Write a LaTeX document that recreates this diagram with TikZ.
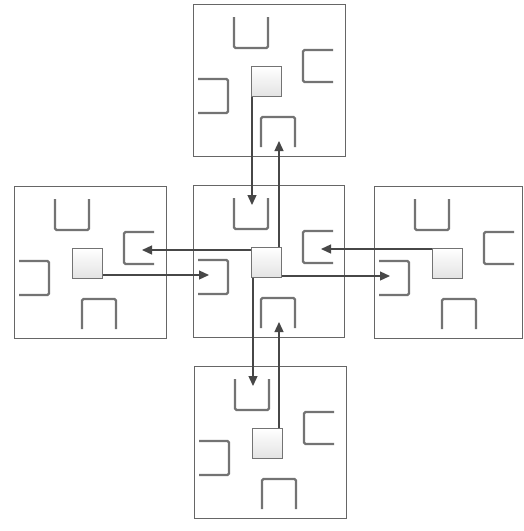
\documentclass[tikz,border=0pt]{standalone}
\usetikzlibrary{arrows.meta}
\tikzset{
	cell/.style={draw=black!60, line width=1.2pt, fill=white, minimum height=152pt,
		anchor=north west, inner sep=0pt},
	pad/.style={draw=black!55, line width=1pt, top color=white, bottom color=black!11,
		minimum size=30pt, anchor=north west, inner sep=0pt},
	bracket/.style={draw=black!55, line width=2.2pt, rounded corners=1.5pt},
	link/.style={-{Triangle[length=10pt,width=9pt]}, draw=black!72, line width=1.3pt}
}

\begin{document}
\begin{tikzpicture}[x=1pt, y=-1pt]
	\useasboundingbox (0,0) rectangle (523,531);

	%% -- five cells, each with its pad and four slots
	\foreach \n/\x/\y/\w in {T/193/4/152, L/14/186/152, C/193/185/151, R/374/186/148, B/194/366/152} {
		\begin{scope}[shift={(\x,\y)}]
			\node[cell, minimum width=\w pt] (cell\n) at (0,0) {};
			\node[pad] (pad\n) at (58,62) {};
			\draw[bracket] (41,13) -- (41,44) -- (75,44) -- (75,13);      % north slot
			\draw[bracket] (140,46) -- (110,46) -- (110,78) -- (140,78);  % east slot
			\draw[bracket] (5,75) -- (35,75) -- (35,109) -- (5,109);      % west slot
			\draw[bracket] (68,143) -- (68,113) -- (102,113) -- (102,143); % south slot
			\coordinate (slotN\n) at (59,20);
			\coordinate (slotE\n) at (128,64);
			\coordinate (slotW\n) at (16,90);
			\coordinate (slotS\n) at (86,137);
		\end{scope}
	}

	%% -- links between the centre pad and its neighbours
	\draw[link] (padT.south -| slotNC) -- (slotNC);
	\draw[link] (padC.north -| slotST) -- (slotST);
	\draw[link] (padC.west |- slotEL) -- (slotEL);
	\draw[link] (padL.east |- slotWC) -- (slotWC);
	\draw[link] (padC.east |- slotWR) -- (slotWR);
	\draw[link] (padR.west |- slotEC) -- (slotEC);
	\draw[link] (padC.south -| slotNB) -- (slotNB);
	\draw[link] (padB.north -| slotSC) -- (slotSC);
\end{tikzpicture}
\end{document}
